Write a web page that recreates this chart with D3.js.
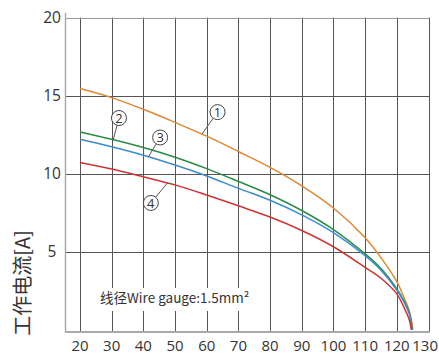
<!DOCTYPE html>
<html><head><meta charset="utf-8">
<script src="https://cdn.jsdelivr.net/npm/d3@7"></script>
<style>
html,body{margin:0;padding:0;background:#fff;}
svg{display:block;}
</style></head>
<body>
<svg id="chart" width="439" height="355"></svg>
<script>
// ---- data ----
const xTicks = [20,30,40,50,60,70,80,90,100,110,120,130];
const yTicks = [5,10,15,20];
const yTitle = "工作电流[A]";
const note = "线径Wire gauge:1.5mm²";

const temp1 = [20,30,40,50,60,70,80,90,100,110,115,120,122,124,125.1];
const curr1 = [15.45,14.87,14.12,13.28,12.4,11.42,10.4,9.22,7.8,5.9,4.62,3.08,2.2,1.15,0];
const temp2 = [20,30,40,50,60,70,80,90,100,110,115,120,122,124,124.9];
const curr2 = [12.67,12.2,11.67,11.05,10.32,9.5,8.65,7.64,6.42,4.86,3.92,2.62,1.95,1.05,0];
const temp3 = [20,30,40,50,60,70,80,90,100,110,115,120,122,124,124.8];
const curr3 = [12.2,11.72,11.18,10.55,9.85,9.06,8.3,7.36,6.22,4.74,3.82,2.55,1.88,0.98,0];
const temp4 = [20,30,40,50,60,70,80,90,100,110,115,120,122,124,124.5];
const curr4 = [10.72,10.3,9.8,9.28,8.63,7.94,7.22,6.36,5.32,4.0,3.3,2.3,1.55,0.6,0];

const seriesNames = ["1","2","3","4"];
const seriesColors = ["#dd8833","#2b8a45","#3c8ccc","#cc3333"];
const labelAt = [58.5,30.5,41.6,47.6]; // temperature where the leader line touches each curve

// ---- layout ----
const W = 439;
const svg = d3.select("#chart");
const x = d3.scaleLinear().domain([20,130]).range([80,428.5]);
const y = d3.scaleLinear().domain([0,20]).range([329.8,17.5]);
const leftX = 65, bottomY = 331.5;

const series = [[temp1,curr1],[temp2,curr2],[temp3,curr3],[temp4,curr4]].map((s,i)=>({
  name: seriesNames[i], color: seriesColors[i],
  pts: s[0].map((t,j)=>[t, s[1][j]])
}));

// gridlines
const snap = v => Math.round(v) + 0.5;
svg.append("g").selectAll("line").data(xTicks).join("line")
  .attr("x1", d=>snap(x(d))).attr("x2", d=>snap(x(d)))
  .attr("y1", y(20)).attr("y2", bottomY)
  .attr("stroke", "#555").attr("stroke-width", 1);
svg.append("g").selectAll("line").data(yTicks).join("line")
  .attr("x1", leftX).attr("x2", snap(x(130)))
  .attr("y1", d=>snap(y(d))).attr("y2", d=>snap(y(d)))
  .attr("stroke", d=> d===20 ? "#999" : "#555").attr("stroke-width", 1);

// left axis line
svg.append("line").attr("x1", leftX+0.5).attr("x2", leftX+0.5)
  .attr("y1", 13).attr("y2", bottomY+1).attr("stroke", "#aaa").attr("stroke-width", 1.5);

// note with white background
const noteG = svg.append("g");
noteG.append("rect").attr("x", 96).attr("y", 288).attr("width", 164).attr("height", 23).attr("fill", "#fff");
noteG.append("text").attr("x", 100).attr("y", 303)
  .attr("font-family", "'Noto Sans CJK SC','Noto Sans',sans-serif").attr("font-size", 13.5)
  .attr("fill", "#333").text(note);

// bottom axis line
svg.append("line").attr("x1", leftX).attr("x2", snap(x(130))+0.5)
  .attr("y1", bottomY+0.5).attr("y2", bottomY+0.5).attr("stroke", "#aaa").attr("stroke-width", 2);

// tick labels
const xl = svg.append("g").selectAll("text").data(xTicks).join("text")
  .attr("y", 350.5).attr("text-anchor", "middle")
  .attr("font-family", "'Open Sans','Noto Sans',sans-serif").attr("font-size", 15)
  .attr("fill", "#333").text(d=>d);
xl.each(function(d){
  const w = this.getComputedTextLength();
  d3.select(this).attr("x", Math.min(x(d), W - 1 - w/2));
});
svg.append("g").selectAll("text").data(yTicks).join("text")
  .attr("x", 52).attr("y", d=>y(d)).attr("dy", "0.36em").attr("text-anchor", "middle")
  .attr("font-family", "'Open Sans','Noto Sans',sans-serif").attr("font-size", 15.5)
  .attr("fill", "#333").text(d=>d);

// y title
svg.append("text").attr("transform", "translate(30,283) rotate(-90)")
  .attr("text-anchor", "middle")
  .attr("font-family", "'Noto Sans CJK SC',sans-serif").attr("font-size", 20)
  .attr("fill", "#333").text(yTitle);

// curves
const line = d3.line().x(d=>x(d[0])).y(d=>y(d[1])).curve(d3.curveCatmullRom.alpha(0.5));
svg.append("g").selectAll("path").data(series).join("path")
  .attr("d", d=>line(d.pts)).attr("fill", "none")
  .attr("stroke", d=>d.color).attr("stroke-width", 1.5);

// annotations
const offsets = [[15.6,-22],[5.7,-21.7],[11.7,-19.3],[-16.6,20]];
const r = 7.5;
function interp(pts, t){
  for(let i=0;i<pts.length-1;i++){
    if(t>=pts[i][0] && t<=pts[i+1][0]){
      const f=(t-pts[i][0])/(pts[i+1][0]-pts[i][0]);
      return pts[i][1]+f*(pts[i+1][1]-pts[i][1]);
    }
  }
  return pts[pts.length-1][1];
}
series.forEach((s,i)=>{
  const ax = x(labelAt[i]), ay = y(interp(s.pts, labelAt[i]));
  const cx = ax+offsets[i][0], cy = ay+offsets[i][1];
  const dx = cx-ax, dy = cy-ay, L = Math.hypot(dx,dy);
  const g = svg.append("g");
  g.append("line").attr("x1", ax).attr("y1", ay)
    .attr("x2", cx-dx/L*r).attr("y2", cy-dy/L*r)
    .attr("stroke", "#555").attr("stroke-width", 1);
  g.append("circle").attr("cx", cx).attr("cy", cy).attr("r", r)
    .attr("fill", "#fff").attr("stroke", "#444").attr("stroke-width", 1);
  g.append("text").attr("x", cx).attr("y", cy).attr("dy", "0.36em")
    .attr("text-anchor", "middle")
    .attr("font-family", "'Open Sans','Noto Sans',sans-serif").attr("font-size", 13)
    .attr("fill", "#333").text(s.name);
});
</script>
</body></html>
